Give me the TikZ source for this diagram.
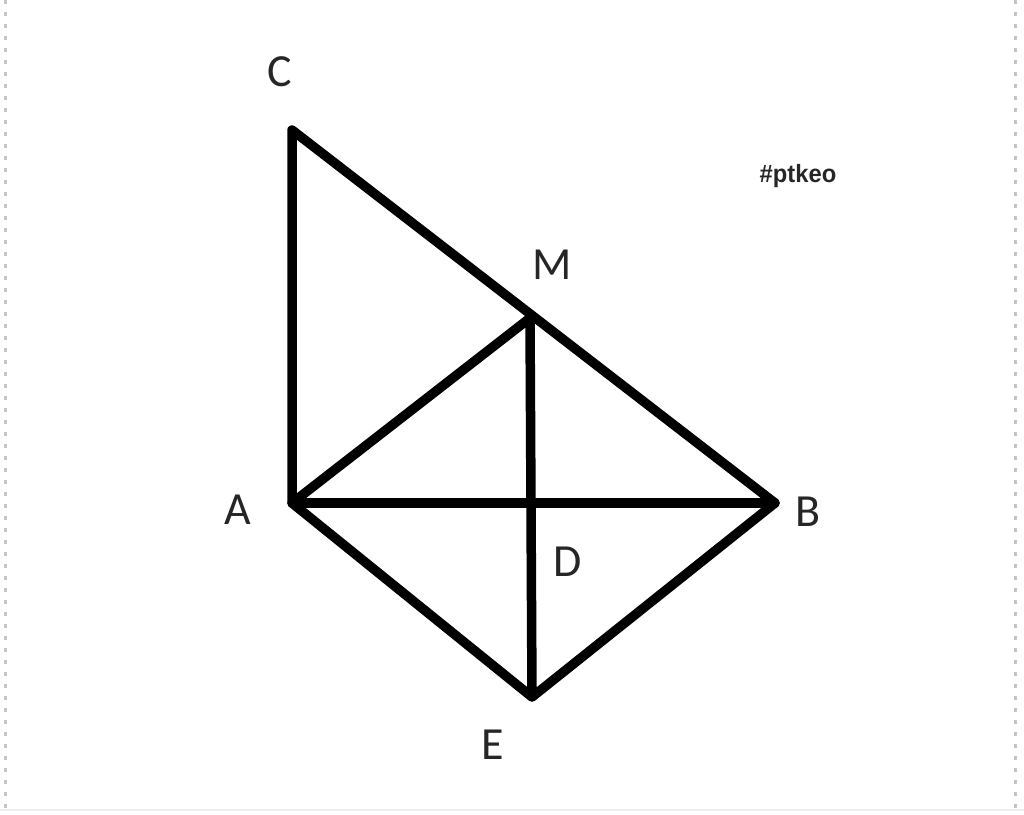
\documentclass[tikz,border=0pt]{standalone}
\usepackage{fontspec}
\setmainfont{Carlito}
\newfontfamily\tagfont{Liberation Sans}
\begin{document}
\begin{tikzpicture}[x=1pt,y=-1pt,
  seg/.style={line width=9.5pt,line cap=round,line join=round,black},
  lbl/.style={font=\fontsize{46}{50}\selectfont,text=black!85,inner sep=0pt},
  frame/.style={gray!45,line width=3pt,dash pattern=on 4pt off 8pt}]
\useasboundingbox (0,0) rectangle (1024,814);
\fill[white] (0,0) rectangle (1024,814);
\draw[frame] (5,0) -- (5,814);
\draw[frame] (1015,0) -- (1015,814);
\draw[gray!15,line width=2pt] (0,810) -- (1024,810);
\coordinate (C) at (292,130);
\coordinate (M) at (530,318);
\coordinate (B) at (775,503);
\coordinate (A) at (292,503);
\coordinate (E) at (532,697);
\draw[seg] (A) -- (C) -- (B) -- (E) -- (A) -- (M) -- (E);
\draw[seg] (A) -- (B);
\node[lbl] (lC) at (280,72) {C};
\node[lbl] (lM) at (552,265) {M};
\node[lbl] (lA) at (238,510) {A};
\node[lbl] (lB) at (808,512) {B};
\node[lbl] (lD) at (568,562) {D};
\node[lbl] (lE) at (493,745) {E};
\node[font=\tagfont\bfseries\fontsize{25}{28}\selectfont,inner sep=0pt,text=black!85,xscale=0.95] (tag) at (798,176) {\#ptkeo};
\end{tikzpicture}
\end{document}
